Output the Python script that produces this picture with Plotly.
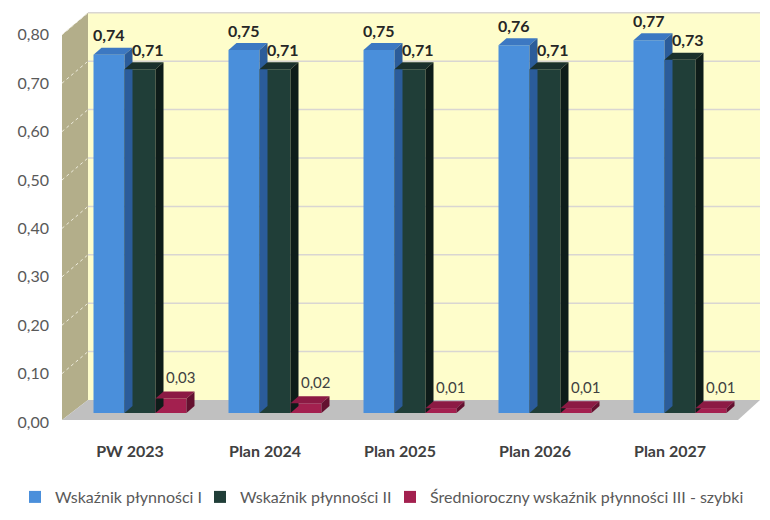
import plotly.graph_objects as go

categories = ["PW 2023", "Plan 2024", "Plan 2025", "Plan 2026", "Plan 2027"]
series_names = ["Wskaźnik płynności I", "Wskaźnik płynności II",
                "Średnioroczny wskaźnik płynności III - szybki"]
liq_1 = [0.74, 0.75, 0.75, 0.76, 0.77]
liq_2 = [0.71, 0.71, 0.71, 0.71, 0.73]
liq_3 = [0.03, 0.02, 0.01, 0.01, 0.01]
y_ticks = [0.0, 0.1, 0.2, 0.3, 0.4, 0.5, 0.6, 0.7, 0.8]

front_col = ["#4A8FDB", "#203E38", "#A3204F"]
top_col = ["#3C78C2", "#1A302C", "#8C1A44"]
side_col = ["#2B5C9A", "#0E1C19", "#64102F"]

W, H = 770, 520
ML, MR, MT, MB = 62, 10, 12, 98
PW, PH = W - ML - MR, H - MT - MB
SCALE = 484.0                       # px per unit
Y_MIN = -9 / SCALE                  # value 0 sits 9 px above the plot bottom
Y_MAX = Y_MIN + PH / SCALE
X_MIN = (ML - 140) / 135.0
X_MAX = (W - MR - 140) / 135.0
BAR_W = 31 / 135.0
DX, DY = 8 / 135.0, 7 / SCALE       # 3D depth of bars in data units
BACK_SHIFT = 13                     # back wall raised vs. bar plane (px)
LEGEND_TEXT_X = [55, 240, 430]      # legend entry text starts (px)
LEGEND_Y = 497


def px(xp):
    return (xp - ML) / PW


def vf(v):  # value -> paper y on the bar plane
    return (v - Y_MIN) / (Y_MAX - Y_MIN)


def vb(v):  # value -> paper y on the back wall
    return vf(v) + BACK_SHIFT / PH


def vl(v):  # value -> paper y on the label (front) plane
    return vf(v) - 9 / PH


series = [liq_1, liq_2, liq_3]
xs = list(range(len(categories)))
fig = go.Figure()
shapes = []
annotations = []

# back wall, side wall, floor, gridlines
shapes.append(dict(type="rect", xref="paper", yref="paper", layer="below",
                   x0=px(88), x1=1.0, y0=vb(0), y1=vb(0.8),
                   fillcolor="#FEFDCB", line=dict(width=0)))
shapes.append(dict(type="path", xref="paper", yref="paper", layer="below",
                   path=f"M {px(ML)},{vl(0.8)} L {px(88)},{vb(0.8)} "
                        f"L {px(88)},{vb(0)} L {px(ML)},{vl(0) + 2 / PH} Z",
                   fillcolor="#B3AE8A", line=dict(width=0)))
shapes.append(dict(type="path", xref="paper", yref="paper", layer="below",
                   path=f"M {px(88)},{vb(0)} L 1,{vb(0)} "
                        f"L {px(738)},{vl(0) + 2 / PH} L {px(ML)},{vl(0) + 2 / PH} Z",
                   fillcolor="#C0C0C0", line=dict(width=0)))
for v in y_ticks[1:]:
    shapes.append(dict(type="line", xref="paper", yref="paper", layer="below",
                       x0=px(88), x1=1.0, y0=vb(v), y1=vb(v),
                       line=dict(color="#D9D6D2", width=1.5)))
    shapes.append(dict(type="line", xref="paper", yref="paper", layer="below",
                       x0=px(ML), x1=px(88), y0=vl(v), y1=vb(v),
                       line=dict(color="#EEECDD", width=1, dash="dot")))

label_dx = [0, 8, 10]
legend_ids = ["legend", "legend2", "legend3"]
for k, (name, vals) in enumerate(zip(series_names, series)):
    off = (k - 1.5) * BAR_W
    fig.add_trace(go.Bar(
        x=xs, y=vals, name=name, width=BAR_W, offset=off,
        marker=dict(color=front_col[k], line=dict(width=0)),
        hoverinfo="x+y", legend=legend_ids[k],
    ))
    for i, v in enumerate(vals):
        x0, x1 = i + off, i + off + BAR_W
        # top cap
        shapes.append(dict(type="path", xref="x", yref="y", layer="above",
                           path=f"M {x0},{v} L {x1},{v} L {x1 + DX},{v + DY} "
                                f"L {x0 + DX},{v + DY} Z",
                           fillcolor=top_col[k], line=dict(width=0)))
        # right side face
        shapes.append(dict(type="path", xref="x", yref="y", layer="above",
                           path=f"M {x1},0 L {x1},{v} L {x1 + DX},{v + DY} "
                                f"L {x1 + DX},{DY} Z",
                           fillcolor=side_col[k], line=dict(width=0)))
        bold = k < 2
        txt = f"{v:.2f}".replace(".", ",")
        annotations.append(dict(
            x=i + off + BAR_W / 2, y=v, xref="x", yref="y",
            text=f"<b>{txt}</b>" if bold else txt, showarrow=False,
            xshift=label_dx[k], yshift=20 if bold else 21,
            font=dict(size=16 if bold else 15,
                      color="#262626" if bold else "#404040", family="Lato"),
        ))

legend_common = dict(orientation="h", xref="container", yref="container",
                     xanchor="left", yanchor="middle", y=(H - LEGEND_Y) / H,
                     font=dict(size=16, color="#595959", family="Lato"),
                     bgcolor="rgba(0,0,0,0)", borderwidth=0)

fig.update_layout(
    width=W, height=H,
    margin=dict(l=ML, r=MR, t=MT, b=MB, autoexpand=False),
    paper_bgcolor="white", plot_bgcolor="rgba(0,0,0,0)",
    barmode="overlay",
    font=dict(family="Lato", color="#595959"),
    shapes=shapes, annotations=annotations,
    showlegend=True,
    legend=dict(x=(LEGEND_TEXT_X[0] - 40) / W, **legend_common),
    legend2=dict(x=(LEGEND_TEXT_X[1] - 40) / W, **legend_common),
    legend3=dict(x=(LEGEND_TEXT_X[2] - 40) / W, **legend_common),
    xaxis=dict(range=[X_MIN, X_MAX], tickvals=xs, ticktext=categories,
               showgrid=False, zeroline=False, showline=False, ticks="",
               ticklabelshift=-10, ticklabelstandoff=18,
               tickfont=dict(size=16, color="#404040", family="Lato", weight="bold")),
    yaxis=dict(range=[Y_MIN, Y_MAX], tickvals=y_ticks,
               ticktext=[f"{v:.2f}".replace(".", ",") for v in y_ticks],
               showgrid=False, zeroline=False, showline=False, ticks="",
               ticklabelstandoff=12, ticklabelshift=9,
               tickfont=dict(size=16, color="#595959", family="Lato")),
)

fig.write_html("out.html", config={"displayModeBar": False},
               post_script="document.body.style.margin='0';")
